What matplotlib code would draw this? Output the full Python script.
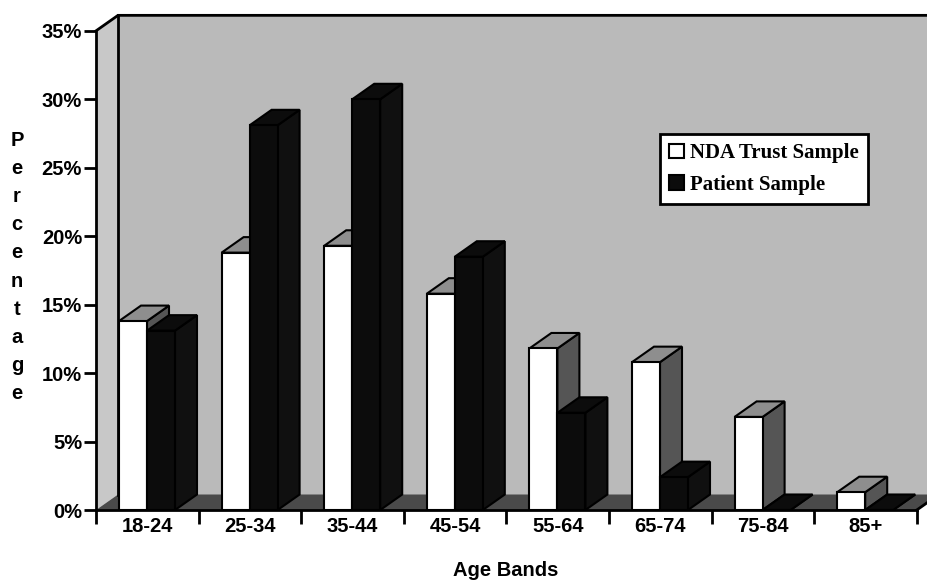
import numpy as np
import matplotlib
matplotlib.use('Agg')
import matplotlib.pyplot as plt
from matplotlib.patches import Polygon, Patch

# data (percent)
age_bands = ['18-24', '25-34', '35-44', '45-54', '55-64', '65-74', '75-84', '85+']
nda_trust = [13.8, 18.8, 19.3, 15.8, 11.8, 10.8, 6.8, 1.3]
patients = [13.1, 28.1, 30.0, 18.5, 7.1, 2.4, 0.0, 0.0]
y_ticks = [0, 5, 10, 15, 20, 25, 30, 35]
y_labels = ['0%', '5%', '10%', '15%', '20%', '25%', '30%', '35%']

W, H = 927, 582
ppc = 102.6   # px per category
ppu = 13.69   # px per percent
DX = 22 / ppc
DY = 15.5 / ppu
ymax = 35
ncat = len(age_bands)

sans = 'Liberation Sans'
serif = 'Liberation Serif'

fig = plt.figure(figsize=(W / 100, H / 100), dpi=100)
fig.patch.set_facecolor('white')
ax = fig.add_axes([96 / W, (H - 510) / H, (W - 96) / W, 496 / H])
ax.set_xlim(0, (W - 96) / ppc)
ax.set_ylim(0, 496 / ppu)
ax.patch.set_visible(False)

xr = (W - 96) / ppc + 0.1
# walls and floor
ax.add_patch(Polygon([(DX, DY), (DX, ymax + DY), (xr, ymax + DY), (xr, DY)],
                     closed=True, facecolor='#bababa', edgecolor='none', zorder=1))
ax.add_patch(Polygon([(0, 0), (0, ymax), (DX, ymax + DY), (DX, DY)],
                     closed=True, facecolor='#c8c8c8', edgecolor='none', zorder=1))
ax.add_patch(Polygon([(0, 0), (ncat, 0), (ncat + DX, DY), (DX, DY)],
                     closed=True, facecolor='#4a4a4a', edgecolor='none', zorder=1))
ax.plot([0, DX, xr], [ymax, ymax + DY, ymax + DY], color='black', lw=2, zorder=2,
        clip_on=False, solid_joinstyle='miter')
ax.plot([DX, DX], [DY, ymax + DY], color='black', lw=2, zorder=2)
ax.plot([ncat, ncat + DX], [0, DY], color='black', lw=2, zorder=2, clip_on=False)


def bar3d(x0, w, h, front, top, side, z):
    kw = dict(closed=True, edgecolor='black', linewidth=1.5, joinstyle='miter')
    ax.add_patch(Polygon([(x0 + w, 0), (x0 + w + DX, DY), (x0 + w + DX, h + DY), (x0 + w, h)],
                         facecolor=side, zorder=z, **kw))
    ax.add_patch(Polygon([(x0, h), (x0 + w, h), (x0 + w + DX, h + DY), (x0 + DX, h + DY)],
                         facecolor=top, zorder=z, **kw))
    ax.add_patch(Polygon([(x0, 0), (x0 + w, 0), (x0 + w, h), (x0, h)],
                         facecolor=front, zorder=z, **kw))


bw = 28 / ppc
off = 23 / ppc
for i in range(ncat):
    bar3d(i + off, bw, nda_trust[i], 'white', '#8e8e8e', '#555555', 3 + 2 * i)
    bar3d(i + off + bw, bw, patients[i], '#0c0c0c', '#0c0c0c', '#101010', 4 + 2 * i)

# axes lines and ticks
for s in ['top', 'right']:
    ax.spines[s].set_visible(False)
ax.spines['left'].set_bounds(0, ymax)
ax.spines['bottom'].set_bounds(0, ncat)
ax.spines['left'].set_linewidth(2)
ax.spines['bottom'].set_linewidth(2)
ax.spines['left'].set_zorder(30)
ax.spines['bottom'].set_zorder(30)

ax.set_yticks(y_ticks)
ax.set_yticklabels(y_labels, fontfamily=sans, fontweight='bold', fontsize=14.5)
ax.tick_params(axis='y', direction='out', length=9, width=2, pad=1)

ax.set_xticks(np.arange(ncat + 1))
ax.set_xticklabels([])
ax.set_xticks(np.arange(ncat) + 0.5, minor=True)
ax.set_xticklabels(age_bands, minor=True, fontfamily=sans, fontweight='bold', fontsize=14.5)
ax.tick_params(axis='x', which='major', direction='out', length=10, width=2)
ax.tick_params(axis='x', which='minor', length=0, pad=5)

# axis titles
fig.text(506 / W, 1 - 570 / H, 'Age Bands', ha='center', va='center',
         fontfamily=sans, fontweight='bold', fontsize=14.5)
for k, ch in enumerate('Percentage'):
    fig.text(17 / W, 1 - (140 + 28.2 * k) / H, ch, ha='center', va='center',
             fontfamily=sans, fontweight='bold', fontsize=14.5)

handles = [Patch(facecolor='white', edgecolor='black', linewidth=1.5),
           Patch(facecolor='#0c0c0c', edgecolor='black', linewidth=1.5)]
leg = fig.legend(handles, ['NDA Trust Sample', 'Patient Sample'], loc='upper left',
                 bbox_to_anchor=(660 / W, 1 - 134 / H), fancybox=False, framealpha=1,
                 edgecolor='black', handlelength=0.7, handleheight=0.7,
                 handletextpad=0.3, labelspacing=0.55, borderpad=0.45, borderaxespad=0,
                 prop={'family': serif, 'weight': 'bold', 'size': 15})
leg.get_frame().set_linewidth(2)
leg.set_zorder(50)

fig.savefig('out.png', dpi=100)
